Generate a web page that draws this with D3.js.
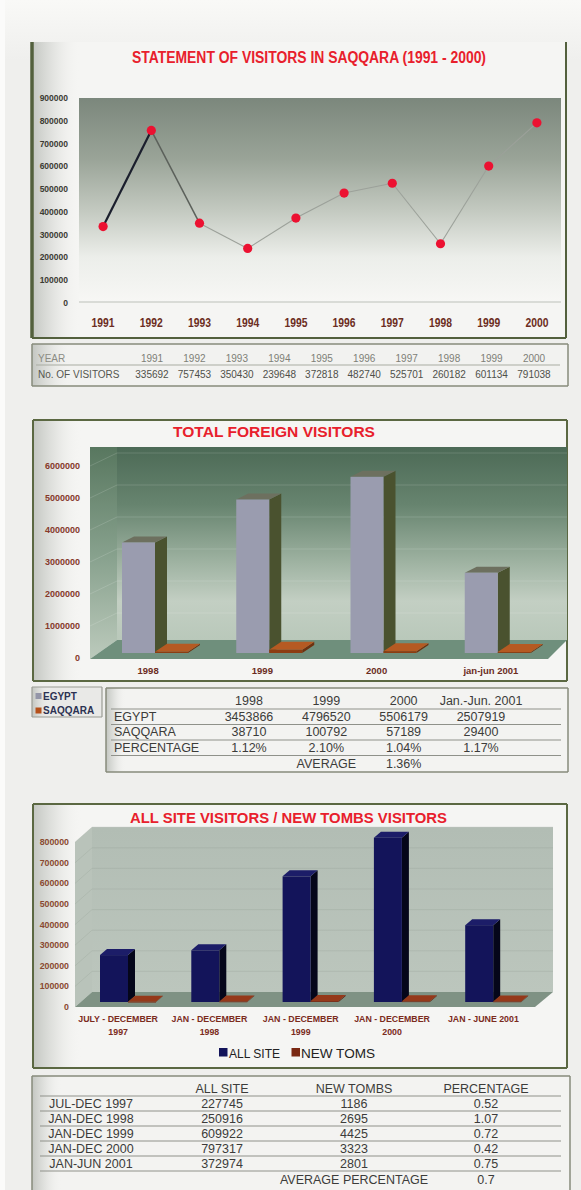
<!DOCTYPE html>
<html>
<head>
<meta charset="utf-8">
<script src="https://cdn.jsdelivr.net/npm/d3@7"></script>
<style>
  html, body { margin: 0; padding: 0; background: #efefed; }
  svg { display: block; }
</style>
</head>
<body>
<script>
// ---------- data ----------
const years = ["1991", "1992", "1993", "1994", "1995", "1996", "1997", "1998", "1999", "2000"];
const visitors = [335692, 757453, 350430, 239648, 372818, 482740, 525701, 260182, 601134, 791038];
const visitorTicks = [0, 100000, 200000, 300000, 400000, 500000, 600000, 700000, 800000, 900000];

const foreignCats = ["1998", "1999", "2000", "jan-jun 2001"];
const foreignHeads = ["1998", "1999", "2000", "Jan.-Jun. 2001"];
const egypt = [3453866, 4796520, 5506179, 2507919];
const saqqara = [38710, 100792, 57189, 29400];
const foreignPct = ["1.12%", "2.10%", "1.04%", "1.17%"];
const foreignAvg = "1.36%";
const foreignTicks = [0, 1000000, 2000000, 3000000, 4000000, 5000000, 6000000];

const siteCats = [["JULY - DECEMBER", "1997"], ["JAN - DECEMBER", "1998"], ["JAN - DECEMBER", "1999"], ["JAN - DECEMBER", "2000"], ["JAN - JUNE 2001"]];
const sitePeriods = ["JUL-DEC 1997", "JAN-DEC 1998", "JAN-DEC 1999", "JAN-DEC 2000", "JAN-JUN 2001"];
const allSite = [227745, 250916, 609922, 797317, 372974];
const newTombs = [1186, 2695, 4425, 3323, 2801];
const tombPct = ["0.52", "1.07", "0.72", "0.42", "0.75"];
const tombAvg = "0.7";
const siteTicks = [0, 100000, 200000, 300000, 400000, 500000, 600000, 700000, 800000];

// ---------- setup ----------
const W = 581, H = 1190;
const SANS = "'Liberation Sans', Arial, Helvetica, sans-serif";
const RED = "#e8202c";
const svg = d3.select("body").append("svg").attr("width", W).attr("height", H);
const defs = svg.append("defs");

function grad(id, x2, y2, stops) {
  const g = defs.append("linearGradient").attr("id", id)
    .attr("x1", 0).attr("y1", 0).attr("x2", x2).attr("y2", y2);
  stops.forEach(([o, c, a]) => g.append("stop").attr("offset", o)
    .attr("stop-color", c).attr("stop-opacity", a == null ? 1 : a));
}
grad("pageTop", 0, 1, [[0, "#f9f9f7"], [1, "#efefed"]]);
grad("leftShade", 1, 0, [[0, "#c3c6c1"], [0.5, "#e2e3e0", 0.8], [1, "#f4f4f2", 0]]);
grad("plot1", 0, 1, [[0, "#7b877c"], [0.3, "#9aa498"], [0.55, "#c3c9c0"], [0.78, "#eceeea"], [1, "#f7f7f5"]]);
grad("wall2", 0, 1, [[0, "#4c6a56"], [0.3, "#67846f"], [0.6, "#9fb3a2"], [0.8, "#c3cfc3"], [1, "#b9c8ba"]]);
grad("side2", 0, 1, [[0, "#58775f"], [0.5, "#86a08c"], [1, "#bccabc"]]);
grad("wall3", 0, 1, [[0, "#b2bdb4"], [1, "#bcc6bd"]]);

svg.append("rect").attr("width", W).attr("height", H).attr("fill", "#efefed");
svg.append("rect").attr("width", W).attr("height", 60).attr("fill", "url(#pageTop)");
svg.append("rect").attr("width", 5).attr("height", H).attr("fill", "#fbfbfa");

function text(g, x, y, s, o = {}) {
  const t = g.append("text").attr("x", x).attr("y", y).text(s)
    .attr("font-family", o.family || SANS)
    .attr("font-size", o.size || 12)
    .attr("font-weight", o.weight || "normal")
    .attr("fill", o.fill || "#333")
    .attr("text-anchor", o.anchor || "start");
  if (o.len) t.attr("textLength", o.len).attr("lengthAdjust", "spacingAndGlyphs");
  return t;
}

// framed panel with the soft shading along its left edge
function panel(x0, y0, x1, y1, o = {}) {
  const g = svg.append("g");
  g.append("rect").attr("x", x0).attr("y", y0).attr("width", x1 - x0).attr("height", y1 - y0)
    .attr("fill", o.fill || "#f5f5f3");
  g.append("rect").attr("x", x0).attr("y", y0).attr("width", o.shade || 48).attr("height", y1 - y0)
    .attr("fill", "url(#leftShade)");
  const c = o.stroke || "#5a6741", w = o.width || 2;
  if (o.top !== false) g.append("line").attr("x1", x0).attr("x2", x1).attr("y1", y0).attr("y2", y0).attr("stroke", c).attr("stroke-width", w);
  g.append("line").attr("x1", x0).attr("x2", x1).attr("y1", y1).attr("y2", y1).attr("stroke", c).attr("stroke-width", w);
  g.append("line").attr("x1", x0).attr("x2", x0).attr("y1", y0).attr("y2", y1).attr("stroke", c).attr("stroke-width", o.leftWidth || w);
  g.append("line").attr("x1", x1).attr("x2", x1).attr("y1", y0).attr("y2", y1).attr("stroke", c).attr("stroke-width", w);
  return g;
}

// simple 3D column: front face, right side and top
function column(g, x, yTop, yBase, w, dx, dy, col) {
  g.append("polygon").attr("points", [[x + w, yTop], [x + w + dx, yTop - dy], [x + w + dx, yBase - dy], [x + w, yBase]].join(" "))
    .attr("fill", col.side);
  g.append("polygon").attr("points", [[x, yTop], [x + dx, yTop - dy], [x + w + dx, yTop - dy], [x + w, yTop]].join(" "))
    .attr("fill", col.top);
  g.append("rect").attr("x", x).attr("y", yTop).attr("width", w).attr("height", Math.max(0.8, yBase - yTop))
    .attr("fill", col.front);
}

// =====================================================
// 1. Statement of visitors (line chart)
// =====================================================
{
  const g = panel(32, 42, 566, 338, { top: false, leftWidth: 3.5, stroke: "#53603d" });
  text(g, 309, 63, "STATEMENT OF VISITORS IN SAQQARA (1991 - 2000)",
    { size: 16, weight: "bold", fill: RED, anchor: "middle", len: 354 });

  const x = d3.scaleBand(years, [79, 561]);
  const y = d3.scaleLinear([0, 900000], [303, 98]);

  g.append("rect").attr("x", 79).attr("y", y(900000)).attr("width", 482).attr("height", y(0) - y(900000) - 1)
    .attr("fill", "url(#plot1)");
  g.append("line").attr("x1", 79).attr("x2", 561).attr("y1", y(0) - 1).attr("y2", y(0) - 1)
    .attr("stroke", "#cfd2cd").attr("stroke-width", 1.5);

  g.selectAll(".yt").data(visitorTicks).join("text")
    .attr("x", 68).attr("y", d => y(d) + 3)
    .attr("text-anchor", "end").attr("font-family", SANS).attr("font-size", 8.5)
    .attr("font-weight", "bold").attr("fill", "#3b3b33").text(d => d);

  g.selectAll(".xt").data(years).join("text")
    .attr("x", d => x(d) + x.bandwidth() / 2).attr("y", 326.5)
    .attr("text-anchor", "middle").attr("font-family", SANS).attr("font-size", 12)
    .attr("font-weight", "bold").attr("fill", "#6c2d22")
    .attr("textLength", 23).attr("lengthAdjust", "spacingAndGlyphs").text(d => d);

  const pts = years.map((yr, i) => [x(yr) + x.bandwidth() / 2, y(visitors[i])]);
  const segStyle = i => i === 0 ? ["#1b1f2d", 2.2] : i === 1 ? ["#5c615b", 1.5] : ["#9ca19a", 1.1];
  d3.pairs(pts).forEach(([a, b], i) => {
    const [c, w] = segStyle(i);
    g.append("line").attr("x1", a[0]).attr("y1", a[1]).attr("x2", b[0]).attr("y2", b[1])
      .attr("stroke", c).attr("stroke-width", w);
  });
  g.selectAll(".pt").data(pts).join("circle")
    .attr("cx", d => d[0]).attr("cy", d => d[1]).attr("r", 4.6).attr("fill", "#ec1131");
}

// table of yearly visitors
{
  const g = panel(32, 344, 568, 386, { stroke: "#878b7b", width: 1.5, shade: 40, fill: "#f2f2f0" });
  const cx = d3.scalePoint(years, [152, 534]);
  text(g, 38, 361.5, "YEAR", { size: 10, fill: "#8b8c84" });
  text(g, 38, 377.5, "No. OF VISITORS", { size: 10, fill: "#55564f" });
  g.append("line").attr("x1", 36).attr("x2", 560).attr("y1", 365).attr("y2", 365).attr("stroke", "#a9ac a2".replace(" ", "")).attr("stroke-width", 1);
  g.selectAll(".yr").data(years).join("text")
    .attr("x", d => cx(d)).attr("y", 361.5).attr("text-anchor", "middle")
    .attr("font-family", SANS).attr("font-size", 10).attr("fill", "#7e7f77").text(d => d);
  g.selectAll(".vv").data(visitors).join("text")
    .attr("x", (d, i) => cx(years[i])).attr("y", 377.5).attr("text-anchor", "middle")
    .attr("font-family", SANS).attr("font-size", 10).attr("fill", "#4f504a").text(d => d);
}

// =====================================================
// 2. Total foreign visitors (3D columns)
// =====================================================
{
  const g = panel(33, 420, 567, 681, { stroke: "#5b6842" });
  text(g, 274, 437, "TOTAL FOREIGN VISITORS", { size: 15, weight: "bold", fill: RED, anchor: "middle", len: 202 });

  const x = d3.scaleBand(foreignCats, [93, 550]);
  const y = d3.scaleLinear([0, 6000000], [653, 461]);
  const barW = 33, off = 29, dx = 12, dy = 6;

  const wallTop = 447, backBase = y(0) - 13, frontBase = y(0) + 6;
  // back wall, side wall and floor
  g.append("rect").attr("x", 117).attr("y", wallTop).attr("width", 567 - 117).attr("height", backBase - wallTop)
    .attr("fill", "url(#wall2)");
  g.append("polygon").attr("points", [[90, wallTop], [117, wallTop], [117, backBase], [90, frontBase]].join(" "))
    .attr("fill", "url(#side2)");
  g.selectAll(".grid").data(foreignTicks.slice(1)).join("line")
    .attr("x1", 117).attr("x2", 567).attr("y1", d => y(d) - 8).attr("y2", d => y(d) - 8)
    .attr("stroke", "#ffffff").attr("stroke-opacity", 0.14);
  g.selectAll(".sgrid").data(foreignTicks.slice(1)).join("line")
    .attr("x1", 90).attr("x2", 117).attr("y1", d => y(d) + 5).attr("y2", d => y(d) - 8)
    .attr("stroke", "#ffffff").attr("stroke-opacity", 0.14);
  g.append("polygon").attr("points", [[90, frontBase], [117, backBase], [567, backBase], [548, frontBase]].join(" "))
    .attr("fill", "#6f8f7c");

  g.selectAll(".yt").data(foreignTicks).join("text")
    .attr("x", 80).attr("y", d => y(d) + 8)
    .attr("text-anchor", "end").attr("font-family", SANS).attr("font-size", 9)
    .attr("font-weight", "bold").attr("fill", "#86392a").text(d => d);

  foreignCats.forEach((c, i) => {
    const bx = x(c) + off;
    column(g, bx, y(egypt[i]), y(0), barW, dx, dy, { front: "#9a9caf", side: "#4a522f", top: "#6d705f" });
    column(g, bx + barW, y(saqqara[i]), y(0), barW, dx, dy + 2, { front: "#8c3d12", side: "#6e300e", top: "#b55a22" });
  });

  g.selectAll(".xt").data(foreignCats).join("text")
    .attr("x", d => x(d) + x.bandwidth() / 2 - 2).attr("y", 673.5)
    .attr("text-anchor", "middle").attr("font-family", SANS).attr("font-size", 9.5)
    .attr("font-weight", "bold").attr("fill", "#6b2c1e").text(d => d);
}

// legend box for the foreign visitors chart
{
  const g = panel(32, 687, 102, 717, { stroke: "#9a9c94", width: 1.2, shade: 20, fill: "#e9e9e7" });
  const items = [["EGYPT", "#9496a8"], ["SAQQARA", "#b5501a"]];
  items.forEach(([name, col], i) => {
    g.append("rect").attr("x", 35.5).attr("y", 693 + i * 14.5).attr("width", 6).attr("height", 6).attr("fill", col);
    text(g, 43, 699.5 + i * 14.5, name, { size: 10, weight: "bold", fill: "#2c3252" });
  });
}

// foreign visitors table
{
  const g = panel(106, 688, 568, 772, { stroke: "#878b7b", width: 1.5, shade: 20, fill: "#f3f3f1" });
  const cx = d3.scalePoint(foreignHeads, [249, 481]);
  const base = [705, 720.5, 736, 751.5, 767.5];
  const FS = 12.5, col = "#3c3c3a";
  [709, 724.5, 740, 755.5].forEach(ly => g.append("line").attr("x1", 111).attr("x2", 561)
    .attr("y1", ly).attr("y2", ly).attr("stroke", "#8f918a").attr("stroke-width", 1));
  foreignHeads.forEach((h, i) => text(g, cx(h), base[0], h, { size: FS, fill: col, anchor: "middle" }));
  text(g, 114, base[1], "EGYPT", { size: FS, fill: col });
  text(g, 114, base[2], "SAQQARA", { size: FS, fill: col });
  text(g, 114, base[3], "PERCENTAGE", { size: FS, fill: col });
  foreignHeads.forEach((h, i) => {
    text(g, cx(h), base[1], egypt[i], { size: FS, fill: col, anchor: "middle" });
    text(g, cx(h), base[2], saqqara[i], { size: FS, fill: col, anchor: "middle" });
    text(g, cx(h), base[3], foreignPct[i], { size: FS, fill: col, anchor: "middle" });
  });
  text(g, cx(foreignHeads[1]), base[4], "AVERAGE", { size: FS, fill: col, anchor: "middle" });
  text(g, cx(foreignHeads[2]), base[4], foreignAvg, { size: FS, fill: col, anchor: "middle" });
}

// =====================================================
// 3. All site visitors / new tombs visitors (3D columns)
// =====================================================
{
  const g = panel(33, 804, 567, 1068, { stroke: "#5b6842" });
  text(g, 288.5, 823, "ALL SITE VISITORS / NEW TOMBS VISITORS",
    { size: 15, weight: "bold", fill: RED, anchor: "middle", len: 317 });

  const idx = d3.range(siteCats.length);
  const x = d3.scaleBand(idx, [72.5, 529]);
  const y = d3.scaleLinear([0, 800000], [1002, 837.2]);
  const barW = 28, off = 27.5, dx = 7, dy = 6;

  const wallTop = y(800000) - 10, backBase = y(0) - 10, frontBase = y(0) + 5;
  g.append("rect").attr("x", 92).attr("y", wallTop).attr("width", 553 - 92).attr("height", backBase - wallTop)
    .attr("fill", "url(#wall3)");
  g.append("polygon").attr("points", [[75, wallTop + 15], [92, wallTop], [92, backBase], [75, frontBase]].join(" "))
    .attr("fill", "#b9c3ba");
  g.selectAll(".grid").data(siteTicks.slice(1)).join("line")
    .attr("x1", 92).attr("x2", 553).attr("y1", d => y(d) - 10).attr("y2", d => y(d) - 10)
    .attr("stroke", "#8f9a91").attr("stroke-opacity", 0.25);
  g.selectAll(".sgrid").data(siteTicks.slice(1)).join("line")
    .attr("x1", 75).attr("x2", 92).attr("y1", d => y(d) + 5).attr("y2", d => y(d) - 10)
    .attr("stroke", "#8f9a91").attr("stroke-opacity", 0.25);
  g.append("polygon").attr("points", [[75, frontBase], [92, backBase], [553, backBase], [535, frontBase]].join(" "))
    .attr("fill", "#7f9284");

  g.selectAll(".yt").data(siteTicks).join("text")
    .attr("x", 69).attr("y", d => y(d) + 8)
    .attr("text-anchor", "end").attr("font-family", SANS).attr("font-size", 8.8)
    .attr("font-weight", "bold").attr("fill", "#8a4a30").text(d => d);

  idx.forEach(i => {
    const bx = x(i) + off;
    column(g, bx, y(allSite[i]), y(0), barW, dx, dy, { front: "#13145a", side: "#05061a", top: "#1c1d68" });
    column(g, bx + barW, y(newTombs[i]), y(0), barW, dx, dy, { front: "#7a2812", side: "#5a1d0c", top: "#95391a" });
  });

  idx.forEach(i => {
    siteCats[i].forEach((line, k) => text(g, x(i) + x.bandwidth() / 2, 1022 + k * 13, line,
      { size: 8.8, weight: "bold", fill: "#7b2b1c", anchor: "middle" }));
  });

  // legend
  g.append("rect").attr("x", 219).attr("y", 1048).attr("width", 8.5).attr("height", 8.5).attr("fill", "#13145a");
  text(g, 229, 1057.5, "ALL SITE", { size: 13, fill: "#222", len: 51 });
  g.append("rect").attr("x", 291.5).attr("y", 1048).attr("width", 8.5).attr("height", 8.5).attr("fill", "#7a2812");
  text(g, 301, 1057.5, "NEW TOMS", { size: 13, fill: "#222", len: 74 });
}

// all site / new tombs table
{
  const g = panel(32, 1076, 570, 1194, { stroke: "#878b7b", width: 1.5, shade: 30, fill: "#f3f3f1" });
  const FS = 12.5, col = "#3c3c3a";
  const colX = [91, 222, 354, 486];
  [1096, 1111, 1126, 1141, 1156, 1171].forEach(ly => g.append("line").attr("x1", 40).attr("x2", 561)
    .attr("y1", ly).attr("y2", ly).attr("stroke", "#8f918a").attr("stroke-width", 1));
  text(g, colX[1], 1093, "ALL SITE", { size: FS, fill: col, anchor: "middle" });
  text(g, colX[2], 1093, "NEW TOMBS", { size: FS, fill: col, anchor: "middle" });
  text(g, colX[3], 1093, "PERCENTAGE", { size: FS, fill: col, anchor: "middle" });
  sitePeriods.forEach((p, i) => {
    const by = 1108 + i * 15;
    text(g, colX[0], by, p, { size: FS, fill: col, anchor: "middle" });
    text(g, colX[1], by, allSite[i], { size: FS, fill: col, anchor: "middle" });
    text(g, colX[2], by, newTombs[i], { size: FS, fill: col, anchor: "middle" });
    text(g, colX[3], by, tombPct[i], { size: FS, fill: col, anchor: "middle" });
  });
  text(g, colX[2], 1184, "AVERAGE PERCENTAGE", { size: FS, fill: col, anchor: "middle" });
  text(g, colX[3], 1184, tombAvg, { size: FS, fill: col, anchor: "middle" });
}
</script>
</body>
</html>
